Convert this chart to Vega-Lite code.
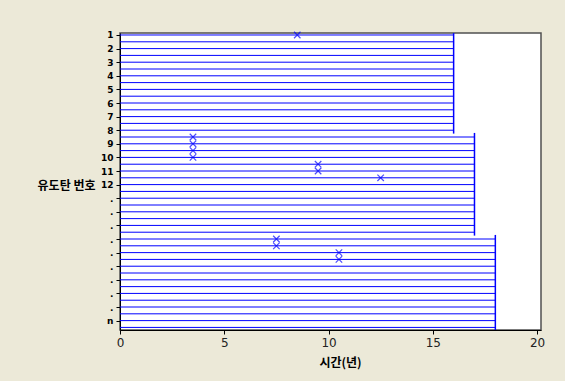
{
  "$schema": "https://vega.github.io/schema/vega-lite/v6.json",
  "autosize": "none",
  "width": 421,
  "height": 297,
  "padding": {"left": 120, "top": 33, "right": 24, "bottom": 51},
  "background": "#ECE9D8",
  "config": {
    "view": {"fill": "white", "stroke": "#505050", "strokeWidth": 1.5},
    "axis": {"grid": false, "domainColor": "#000000", "tickColor": "#000000", "labelColor": "#222222", "titleColor": "#000000"}
  },
  "datasets": {
    "lines": [
      {"u": 1, "start": 0, "end": 16}, {"u": 1.5, "start": 0, "end": 16}, {"u": 2, "start": 0, "end": 16}, {"u": 2.5, "start": 0, "end": 16},
      {"u": 3, "start": 0, "end": 16}, {"u": 3.5, "start": 0, "end": 16}, {"u": 4, "start": 0, "end": 16}, {"u": 4.5, "start": 0, "end": 16},
      {"u": 5, "start": 0, "end": 16}, {"u": 5.5, "start": 0, "end": 16}, {"u": 6, "start": 0, "end": 16}, {"u": 6.5, "start": 0, "end": 16},
      {"u": 7, "start": 0, "end": 16}, {"u": 7.5, "start": 0, "end": 16}, {"u": 8, "start": 0, "end": 16},
      {"u": 8.5, "start": 0, "end": 17}, {"u": 9, "start": 0, "end": 17}, {"u": 9.5, "start": 0, "end": 17}, {"u": 10, "start": 0, "end": 17},
      {"u": 10.5, "start": 0, "end": 17}, {"u": 11, "start": 0, "end": 17}, {"u": 11.5, "start": 0, "end": 17}, {"u": 12, "start": 0, "end": 17},
      {"u": 12.5, "start": 0, "end": 17}, {"u": 13, "start": 0, "end": 17}, {"u": 13.5, "start": 0, "end": 17}, {"u": 14, "start": 0, "end": 17},
      {"u": 14.5, "start": 0, "end": 17}, {"u": 15, "start": 0, "end": 17}, {"u": 15.5, "start": 0, "end": 17},
      {"u": 16, "start": 0, "end": 18}, {"u": 16.5, "start": 0, "end": 18}, {"u": 17, "start": 0, "end": 18}, {"u": 17.5, "start": 0, "end": 18},
      {"u": 18, "start": 0, "end": 18}, {"u": 18.5, "start": 0, "end": 18}, {"u": 19, "start": 0, "end": 18}, {"u": 19.5, "start": 0, "end": 18},
      {"u": 20, "start": 0, "end": 18}, {"u": 20.5, "start": 0, "end": 18}, {"u": 21, "start": 0, "end": 18}, {"u": 21.5, "start": 0, "end": 18},
      {"u": 22, "start": 0, "end": 18}, {"u": 22.5, "start": 0, "end": 18}
    ],
    "groups": [
      {"end": 16, "u1": 0.86, "u2": 8.25},
      {"end": 17, "u1": 8.2, "u2": 15.75},
      {"end": 18, "u1": 15.7, "u2": 22.69}
    ],
    "failures": [
      {"t": 8.5, "u": 1},
      {"t": 3.5, "u": 8.5},
      {"t": 3.5, "u": 9},
      {"t": 3.5, "u": 9.5},
      {"t": 3.5, "u": 10},
      {"t": 9.5, "u": 10.5},
      {"t": 9.5, "u": 11},
      {"t": 12.5, "u": 11.5},
      {"t": 7.5, "u": 16},
      {"t": 7.5, "u": 16.5},
      {"t": 10.5, "u": 17},
      {"t": 10.5, "u": 17.5}
    ]
  },
  "layer": [
    {
      "data": {"name": "lines"},
      "mark": {"type": "rule", "color": "#0000FF", "strokeWidth": 1},
      "encoding": {
        "x": {"field": "start", "type": "quantitative",
              "scale": {"domain": [0, 20.19], "nice": false, "zero": false},
              "axis": {"values": [0, 5, 10, 15, 20], "tickCount": 10, "format": "d", "tickSize": 4, "labelFontSize": 12, "labelFont": "DejaVu Sans", "labelPadding": 3,
                       "labelOverlap": false, "labelFlush": false,
                       "title": "시간(년)", "titleFont": "Noto Sans CJK KR", "titleFontSize": 12, "titleFontWeight": "bold",
                       "titleX": 220, "titleY": 32, "titleBaseline": "middle"}},
        "x2": {"field": "end"},
        "y": {"field": "u", "type": "quantitative",
              "scale": {"domain": [0.853, 22.69], "nice": false, "zero": false, "reverse": true},
              "axis": {"values": [1, 2, 3, 4, 5, 6, 7, 8, 9, 10, 11, 12, 13, 14, 15, 16, 17, 18, 19, 20, 21, 22],
                       "tickCount": 40, "format": "d",
                       "labelExpr": "datum.value <= 12 ? datum.label : (datum.value == 22 ? 'n' : '.')",
                       "labelOverlap": false, "labelFlush": false, "labelBound": false,
                       "tickSize": 4, "labelFontSize": 9, "labelFontWeight": "bold", "labelFont": "DejaVu Sans", "labelPadding": 3, "labelColor": "#000000",
                       "title": "유도탄 번호", "titleAngle": 0, "titleAlign": "right", "titleBaseline": "middle",
                       "titleX": -25, "titleY": 152, "titleFont": "Noto Sans CJK KR", "titleFontSize": 12, "titleFontWeight": "bold"}}
      }
    },
    {
      "data": {"name": "groups"},
      "mark": {"type": "rule", "color": "#0000FF", "strokeWidth": 1.5},
      "encoding": {
        "x": {"field": "end", "type": "quantitative"},
        "y": {"field": "u1", "type": "quantitative"},
        "y2": {"field": "u2"}
      }
    },
    {
      "data": {"name": "failures"},
      "mark": {"type": "point", "shape": "M-1,-1L1,1M1,-1L-1,1", "filled": false, "color": "#0000FF", "strokeWidth": 1.2, "size": 42},
      "encoding": {
        "x": {"field": "t", "type": "quantitative"},
        "y": {"field": "u", "type": "quantitative"}
      }
    }
  ]
}
